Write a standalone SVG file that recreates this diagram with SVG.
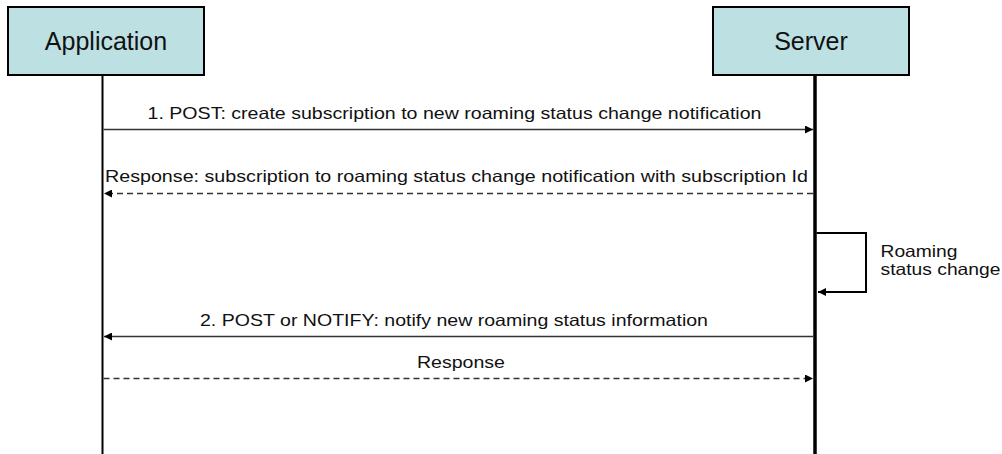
<svg xmlns="http://www.w3.org/2000/svg" width="1002" height="454" viewBox="0 0 1002 454">
<style>
.box{fill:#bde0e3;stroke:#000;stroke-width:2}
.title{font-family:"Liberation Sans",Arial,sans-serif;font-size:25px;fill:#111;text-anchor:middle}
.lbl{font-family:"Liberation Sans",Arial,sans-serif;font-size:16.5px;fill:#111}
.msg{stroke:#333;stroke-width:1.5;fill:none}
.dash{stroke-dasharray:6 4}
</style>
<defs>
<marker id="ah" viewBox="0 0 10 10" refX="10" refY="5" markerWidth="9" markerHeight="8" markerUnits="userSpaceOnUse" orient="auto">
<path d="M0,0 L10,5 L0,10 z" fill="#000"/>
</marker>
</defs>
<g id="application">
<rect class="box" x="8" y="7" width="196" height="68"/>
<text class="title" x="106" y="50">Application</text>
<line x1="102.5" y1="75" x2="102.5" y2="454" stroke="#000" stroke-width="2"/>
</g>
<g id="server">
<rect class="box" x="713" y="7" width="196" height="68"/>
<text class="title" x="811" y="50">Server</text>
<line x1="815" y1="75" x2="815" y2="454" stroke="#000" stroke-width="3.5"/>
</g>
<g id="connectors">
<line class="msg" x1="103.5" y1="129.5" x2="813" y2="129.5" marker-end="url(#ah)"/>
<text class="lbl" x="147.5" y="119" textLength="614" lengthAdjust="spacingAndGlyphs">1. POST: create subscription to new roaming status change notification</text>
<line class="msg dash" x1="813" y1="193.5" x2="104" y2="193.5" marker-end="url(#ah)"/>
<text class="lbl" x="105" y="182" textLength="703" lengthAdjust="spacingAndGlyphs">Response: subscription to roaming status change notification with subscription Id</text>
<polyline points="816.5,233 866,233 866,292 818,292" fill="none" stroke="#000" stroke-width="2" marker-end="url(#ah)"/>
<text class="lbl" x="880.5" y="257" textLength="77" lengthAdjust="spacingAndGlyphs">Roaming</text>
<text class="lbl" x="880.5" y="275" textLength="120" lengthAdjust="spacingAndGlyphs">status change</text>
<line class="msg" x1="813" y1="336.5" x2="104" y2="336.5" marker-end="url(#ah)"/>
<text class="lbl" x="200" y="325.5" textLength="508" lengthAdjust="spacingAndGlyphs">2. POST or NOTIFY: notify new roaming status information</text>
<line class="msg dash" x1="103.5" y1="378.5" x2="813" y2="378.5" marker-end="url(#ah)"/>
<text class="lbl" x="417" y="367.5" textLength="88" lengthAdjust="spacingAndGlyphs">Response</text>
</g>
</svg>
